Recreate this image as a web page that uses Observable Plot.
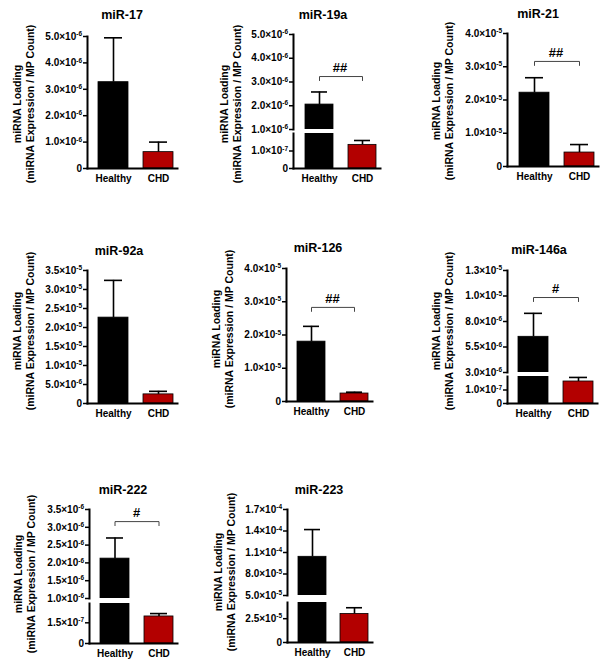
<!DOCTYPE html>
<html><head><meta charset="utf-8">
<script src="https://cdn.jsdelivr.net/npm/d3@7"></script>
<script src="https://cdn.jsdelivr.net/npm/@observablehq/plot@0.6"></script>
<style>
body{margin:0;background:#fff;}
#fig{position:relative;width:604px;height:669px;overflow:hidden;font-family:"Liberation Sans",Arial,sans-serif;font-weight:bold;color:#000}
.title{position:absolute;font-size:12.5px;transform:translate(-50%,-50%);white-space:nowrap}
.ylab{position:absolute;font-size:10.5px;line-height:13px;text-align:center;white-space:nowrap;transform:translate(-50%,-50%) rotate(-90deg)}
.seg{position:absolute}
.seg svg{overflow:visible}
.seg svg text{font-weight:bold}
</style></head><body><div id="fig"></div>
<script>
// ---- data ----
const groups = ["Healthy", "CHD"];
const titles = ["miR-17", "miR-19a", "miR-21", "miR-92a", "miR-126", "miR-146a", "miR-222", "miR-223"];
const healthyMean  = [3.27e-6, 2.05e-6, 2.22e-5, 2.26e-5, 1.80e-5, 6.5e-6, 2.12e-6, 1.04e-4];
const healthyUpper = [4.95e-6, 2.58e-6, 2.67e-5, 3.24e-5, 2.26e-5, 8.8e-6, 2.70e-6, 1.42e-4];
const chdMean      = [6.2e-7, 1.35e-7, 4.2e-6, 2.4e-6, 2.4e-6, 1.63e-7, 1.96e-7, 3.0e-5];
const chdUpper     = [1.0e-6, 1.60e-7, 6.6e-6, 3.2e-6, 2.8e-6, 1.93e-7, 2.17e-7, 3.65e-5];
const sigText  = ["", "##", "##", "", "##", "#", "#", ""];
const sigLevel = [null, 3.23e-6, 3.16e-5, null, 2.83e-5, 1.035e-5, 3.16e-6, null];
const yTitle = ["miRNA Loading", "(miRNA Expression / MP Count)"];
// y-axis segments (lower segment always present, upper only for broken axes)
const lowerDomain = [[0, 5e-6], [0, 2e-7], [0, 4e-5], [0, 3.5e-5], [0, 4e-5], [0, 2e-7], [0, 2.9e-7], [0, 4.2e-5]];
const upperDomain = [null, [1e-6, 5e-6], null, null, null, [3e-6, 1.3e-5], [1e-6, 3.5e-6], [5e-5, 1.7e-4]];
const lowerTicks = [
  [0, 1e-6, 2e-6, 3e-6, 4e-6, 5e-6], [0, 1e-7], [0, 1e-5, 2e-5, 3e-5, 4e-5],
  [0, 5e-6, 1e-5, 1.5e-5, 2e-5, 2.5e-5, 3e-5, 3.5e-5], [0, 1e-5, 2e-5, 3e-5, 4e-5],
  [0, 1e-7], [0, 1.5e-7], [0, 2.5e-5]];
const lowerTickLabels = [
  ["0", "1.0×10^-6", "2.0×10^-6", "3.0×10^-6", "4.0×10^-6", "5.0×10^-6"],
  ["0", "1.0×10^-7"],
  ["0", "1.0×10^-5", "2.0×10^-5", "3.0×10^-5", "4.0×10^-5"],
  ["0", "5.0×10^-6", "1.0×10^-5", "1.5×10^-5", "2.0×10^-5", "2.5×10^-5", "3.0×10^-5", "3.5×10^-5"],
  ["0", "1.0×10^-5", "2.0×10^-5", "3.0×10^-5", "4.0×10^-5"],
  ["0", "1.0×10^-7"],
  ["0", "1.5×10^-7"],
  ["0", "2.5×10^-5"]];
const upperTicks = [null, [1e-6, 2e-6, 3e-6, 4e-6, 5e-6], null, null, null,
  [3e-6, 5.5e-6, 8e-6, 1.05e-5, 1.3e-5], [1e-6, 1.5e-6, 2e-6, 2.5e-6, 3e-6, 3.5e-6],
  [5e-5, 8e-5, 1.1e-4, 1.4e-4, 1.7e-4]];
const upperTickLabels = [null,
  ["1.0×10^-6", "2.0×10^-6", "3.0×10^-6", "4.0×10^-6", "5.0×10^-6"], null, null, null,
  ["3.0×10^-6", "5.5×10^-6", "8.0×10^-6", "1.0×10^-5", "1.3×10^-5"],
  ["1.0×10^-6", "1.5×10^-6", "2.0×10^-6", "2.5×10^-6", "3.0×10^-6", "3.5×10^-6"],
  ["5.0×10^-5", "8.0×10^-5", "1.1×10^-4", "1.4×10^-4", "1.7×10^-4"]];

// ---- layout (pixels) ----
const layout = [
  {ax: 87,  rx: 177, low: [36, 168],  up: null,       title: [122, 15],  ylab: [23.5, 104]},
  {ax: 293, rx: 380, low: [133, 168], up: [34, 129],  title: [323, 15],  ylab: [231, 104]},
  {ax: 507, rx: 598, low: [33, 166],  up: null,       title: [538, 14],  ylab: [443, 101]},
  {ax: 87,  rx: 177, low: [270, 403], up: null,       title: [119, 251], ylab: [24, 331]},
  {ax: 286, rx: 372, low: [268, 401], up: null,       title: [318, 248], ylab: [223, 329]},
  {ax: 507, rx: 597, low: [376, 403], up: [270, 372], title: [539, 250], ylab: [443, 331]},
  {ax: 89,  rx: 177, low: [603, 643], up: [509, 598], title: [123, 490], ylab: [25, 574]},
  {ax: 287, rx: 372, low: [602, 642], up: [509, 595], title: [319, 490], ylab: [225, 572]}
];
const RED = "#b30000";
const fig = document.getElementById("fig");

function superscript(svg) {
  d3.select(svg).selectAll('g[aria-label="y-axis tick label"] text').each(function () {
    const t = this.textContent, k = t.indexOf("^");
    if (k < 0) return;
    this.textContent = t.slice(0, k);
    d3.select(this).append("tspan").attr("dy", "-0.55em").attr("font-size", "6.5px").text(t.slice(k + 1));
  });
}

function drawSegment(i, domain, ticks, labels, top, bottom, isBottom) {
  const L = layout[i];
  const mL = 66, mR = 4, mT = 8, mB = isBottom ? 26 : 1;
  const data = [
    {group: groups[0], mean: healthyMean[i], upper: healthyUpper[i], fill: "#000"},
    {group: groups[1], mean: chdMean[i], upper: chdUpper[i], fill: RED}
  ];
  const perPx = (domain[1] - domain[0]) / (bottom - top);
  const labelOf = new Map(ticks.map((t, j) => [t, labels[j]]));
  const marks = [
    Plot.barY(data, {x: "group", y: "mean", fill: "fill", stroke: "#000", strokeWidth: 0.8, clip: true}),
    Plot.ruleX(data, {x: "group", y1: "mean", y2: "upper", stroke: "#000", strokeWidth: 1.6, clip: true}),
    Plot.tickY(data, {x: "group", y: "upper", stroke: "#000", strokeWidth: 1.6, insetLeft: 6, insetRight: 6, clip: true}),
    Plot.axisY({ticks, tickFormat: d => labelOf.get(d) ?? "", tickSize: 4, tickPadding: 1.5, fontSize: 10, strokeWidth: 1.5, label: null}),
    Plot.frame({anchor: "left", stroke: "#000", strokeWidth: 2})
  ];
  if (isBottom) {
    marks.push(Plot.axisX({tickSize: 0, tickPadding: 6, fontSize: 10, label: null}));
    marks.push(Plot.frame({anchor: "bottom", stroke: "#000", strokeWidth: 2}));
  }
  const s = sigLevel[i];
  if (s != null && s >= domain[0] && s <= domain[1]) {
    const d = 4 * perPx;
    marks.push(Plot.line([
      {g: groups[0], y: s - d}, {g: groups[0], y: s}, {g: groups[1], y: s}, {g: groups[1], y: s - d}
    ], {x: "g", y: "y", stroke: "#444", strokeWidth: 1}));
    marks.push(Plot.text([{t: sigText[i], y: s}], {y: "y", text: "t", frameAnchor: "middle", dx: 3, dy: -9, fontSize: 13, fontWeight: "bold"}));
  }
  const svg = Plot.plot({
    width: mL + (L.rx - L.ax) + mR,
    height: mT + (bottom - top) + mB,
    marginLeft: mL, marginRight: mR, marginTop: mT, marginBottom: mB,
    x: {domain: groups, paddingInner: 0.34, paddingOuter: 0.17, align: 0.75, axis: isBottom ? undefined : null},
    y: {domain, axis: null},
    style: {fontFamily: '"Liberation Sans", Arial, sans-serif', fontWeight: "bold", background: "transparent", color: "#000"},
    marks
  });
  superscript(svg);
  const wrap = document.createElement("div");
  wrap.className = "seg";
  wrap.style.left = (L.ax - mL) + "px";
  wrap.style.top = (top - mT) + "px";
  wrap.appendChild(svg);
  fig.appendChild(wrap);
}

titles.forEach((title, i) => {
  const L = layout[i];
  const t = document.createElement("div");
  t.className = "title";
  t.style.left = L.title[0] + "px"; t.style.top = L.title[1] + "px";
  t.textContent = title;
  fig.appendChild(t);
  const yl = document.createElement("div");
  yl.className = "ylab";
  yl.style.left = L.ylab[0] + "px"; yl.style.top = L.ylab[1] + "px";
  yl.innerHTML = yTitle[0] + "<br>" + yTitle[1];
  fig.appendChild(yl);
  drawSegment(i, lowerDomain[i], lowerTicks[i], lowerTickLabels[i], L.low[0], L.low[1], true);
  if (upperDomain[i]) drawSegment(i, upperDomain[i], upperTicks[i], upperTickLabels[i], L.up[0], L.up[1], false);
});
</script></body></html>
